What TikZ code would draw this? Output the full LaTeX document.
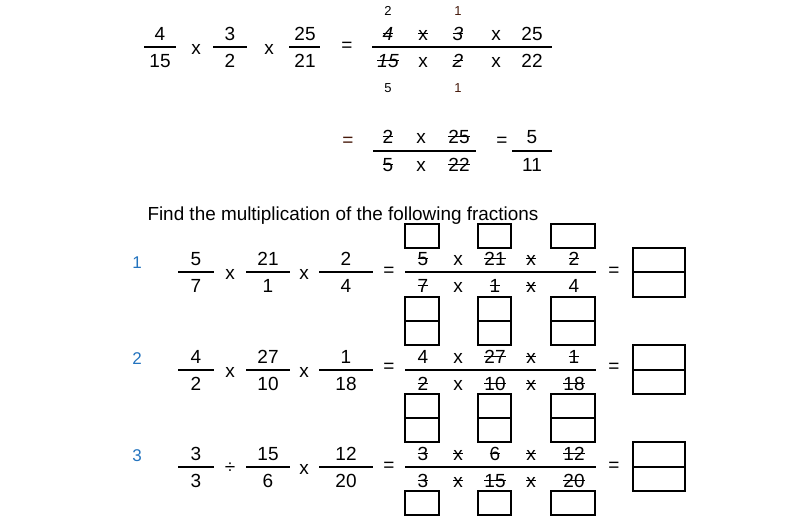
\documentclass[tikz,border=0pt]{standalone}
\usepackage{fontspec}
\setmainfont{Liberation Sans}
\newsavebox\strkbox
\newcommand\strk[1]{\sbox\strkbox{#1}\rlap{\rule[0.3em]{\wd\strkbox}{0.07em}}\usebox\strkbox}
\definecolor{rowblue}{RGB}{35,115,190}
\definecolor{smallbrown}{RGB}{70,25,10}
\begin{document}
\begin{tikzpicture}[x=1pt,y=-1pt,
  every node/.style={inner sep=0pt,outer sep=0pt},
  num/.style={anchor=base,font=\fontsize{19}{21}\selectfont},
  eqs/.style={anchor=center,font=\fontsize{19}{21}\selectfont},
  small/.style={anchor=center,font=\fontsize{13}{15}\selectfont},
  rownum/.style={anchor=center,text=rowblue,font=\fontsize{17}{19}\selectfont},
  fbar/.style={line width=1.8pt},
  ansbox/.style={draw,line width=1.1pt}]
\useasboundingbox (0,0) rectangle (799,525);

% ---------- worked example, first line ----------
\node[num] (ta) at (160,40) {4};
\node[num] (tb) at (160,67) {15};
\draw[fbar] (144,47) -- (176,47);
\node[num] (tx1) at (196,54) {x};
\node[num] (tc) at (230,40) {3};
\node[num] (td) at (230,67) {2};
\draw[fbar] (213,47) -- (247,47);
\node[num] (tx2) at (269,54) {x};
\node[num] (te) at (305,40) {25};
\node[num] (tf) at (305,67) {21};
\draw[fbar] (289,47) -- (320,47);
\node[eqs] (tq) at (347,47) {=};
\draw[fbar] (372,47) -- (552,47);
\node[num] (tn1) at (388,40) {\strk{\itshape 4}};
\node[num] (tn2) at (423,40) {\strk{x}};
\node[num] (tn3) at (458,40) {\strk{\itshape 3}};
\node[num] (tn4) at (496,40) {x};
\node[num] (tn5) at (532,40) {25};
\node[num] (td1) at (388,67) {\strk{\itshape 15}};
\node[num] (td2) at (423,67) {x};
\node[num] (td3) at (458,67) {\strk{\itshape 2}};
\node[num] (td4) at (496,67) {x};
\node[num] (td5) at (532,67) {22};
\node[small] (ts1) at (388,11) {2};
\node[small,text=smallbrown] (ts2) at (458,11) {1};
\node[small] (ts3) at (388,88) {5};
\node[small,text=smallbrown] (ts4) at (458,88) {1};

% ---------- worked example, second line ----------
\node[eqs,text=smallbrown] (sq1) at (348,142) {=};
\draw[fbar] (373,151) -- (476,151);
\node[num] (sn1) at (388,143) {\strk{2}};
\node[num] (sn2) at (421,143) {x};
\node[num] (sn3) at (459,143) {\strk{25}};
\node[num] (sd1) at (388,171) {\strk{5}};
\node[num] (sd2) at (421,171) {x};
\node[num] (sd3) at (459,171) {\strk{22}};
\node[eqs] (sq2) at (502,142) {=};
\draw[fbar] (512,151) -- (552,151);
\node[num] (sr1) at (532,143) {5};
\node[num] (sr2) at (532,171) {11};

% ---------- instruction ----------
\node[num,anchor=base west,font=\fontsize{18.9}{21}\selectfont] (inst) at (147.5,220) {Find the multiplication of the following fractions};

% ---------- helper boxes ----------
\foreach \a/\b in {405/439,478/511,551/595}{
  \draw[ansbox] (\a,224) rectangle (\b,248);
  \draw[ansbox] (\a,297) rectangle (\b,345);
  \draw[ansbox] (\a,321) -- (\b,321);
  \draw[ansbox] (\a,394) rectangle (\b,442);
  \draw[ansbox] (\a,418) -- (\b,418);
  \draw[ansbox] (\a,491) rectangle (\b,515);
}

% ---------- row 1 ----------
\begin{scope}[yshift=-272pt]
\node[rownum] (r1k) at (137,-9) {1};
\node[num] (r1a) at (196,-7) {5};
\node[num] (r1b) at (196,20) {7};
\draw[fbar] (178,0) -- (214,0);
\node[num] (r1x1) at (230,7) {x};
\node[num] (r1c) at (268,-7) {21};
\node[num] (r1d) at (268,20) {1};
\draw[fbar] (246,0) -- (290,0);
\node[num] (r1x2) at (304,7) {x};
\node[num] (r1e) at (346,-7) {2};
\node[num] (r1f) at (346,20) {4};
\draw[fbar] (319,0) -- (373,0);
\node[eqs] (r1q1) at (389,0) {=};
\draw[fbar] (405,0) -- (596,0);
\node[num] (r1n1) at (423,-7) {\strk{5}};
\node[num] (r1n2) at (458,-7) {x};
\node[num] (r1n3) at (495,-7) {\strk{21}};
\node[num] (r1n4) at (531,-7) {\strk{x}};
\node[num] (r1n5) at (574,-7) {\strk{2}};
\node[num] (r1d1) at (423,20) {\strk{7}};
\node[num] (r1d2) at (458,20) {x};
\node[num] (r1d3) at (495,20) {\strk{1}};
\node[num] (r1d4) at (531,20) {\strk{x}};
\node[num] (r1d5) at (574,20) {4};
\node[eqs] (r1q2) at (614,0) {=};
\draw[ansbox] (633,-24) rectangle (685,25);
\draw[ansbox] (633,0) -- (685,0);
\end{scope}

% ---------- row 2 ----------
\begin{scope}[yshift=-370pt]
\node[rownum] (r2k) at (137,-11) {2};
\node[num] (r2a) at (196,-7) {4};
\node[num] (r2b) at (196,20) {2};
\draw[fbar] (178,0) -- (214,0);
\node[num] (r2x1) at (230,7) {x};
\node[num] (r2c) at (268,-7) {27};
\node[num] (r2d) at (268,20) {10};
\draw[fbar] (246,0) -- (290,0);
\node[num] (r2x2) at (304,7) {x};
\node[num] (r2e) at (346,-7) {1};
\node[num] (r2f) at (346,20) {18};
\draw[fbar] (319,0) -- (373,0);
\node[eqs] (r2q1) at (389,-2) {=};
\draw[fbar] (405,0) -- (596,0);
\node[num] (r2n1) at (423,-7) {4};
\node[num] (r2n2) at (458,-7) {x};
\node[num] (r2n3) at (495,-7) {\strk{27}};
\node[num] (r2n4) at (531,-7) {\strk{x}};
\node[num] (r2n5) at (574,-7) {\strk{1}};
\node[num] (r2d1) at (423,20) {\strk{2}};
\node[num] (r2d2) at (458,20) {x};
\node[num] (r2d3) at (495,20) {\strk{10}};
\node[num] (r2d4) at (531,20) {\strk{x}};
\node[num] (r2d5) at (574,20) {\strk{18}};
\node[eqs] (r2q2) at (614,-2) {=};
\draw[ansbox] (633,-25) rectangle (685,24);
\draw[ansbox] (633,0) -- (685,0);
\end{scope}

% ---------- row 3 ----------
\begin{scope}[yshift=-467pt]
\node[rownum] (r3k) at (137,-11) {3};
\node[num] (r3a) at (196,-7) {3};
\node[num] (r3b) at (196,20) {3};
\draw[fbar] (178,0) -- (214,0);
\node[eqs] (r3x1) at (230,1) {÷};
\node[num] (r3c) at (268,-7) {15};
\node[num] (r3d) at (268,20) {6};
\draw[fbar] (246,0) -- (290,0);
\node[num] (r3x2) at (304,7) {x};
\node[num] (r3e) at (346,-7) {12};
\node[num] (r3f) at (346,20) {20};
\draw[fbar] (319,0) -- (373,0);
\node[eqs] (r3q1) at (389,0) {=};
\draw[fbar] (405,0) -- (596,0);
\node[num] (r3n1) at (423,-7) {\strk{3}};
\node[num] (r3n2) at (458,-7) {\strk{x}};
\node[num] (r3n3) at (495,-7) {\strk{6}};
\node[num] (r3n4) at (531,-7) {\strk{x}};
\node[num] (r3n5) at (574,-7) {\strk{12}};
\node[num] (r3d1) at (423,20) {\strk{3}};
\node[num] (r3d2) at (458,20) {\strk{x}};
\node[num] (r3d3) at (495,20) {\strk{15}};
\node[num] (r3d4) at (531,20) {\strk{x}};
\node[num] (r3d5) at (574,20) {\strk{20}};
\node[eqs] (r3q2) at (614,0) {=};
\draw[ansbox] (633,-25) rectangle (685,24);
\draw[ansbox] (633,0) -- (685,0);
\end{scope}
\end{tikzpicture}
\end{document}
